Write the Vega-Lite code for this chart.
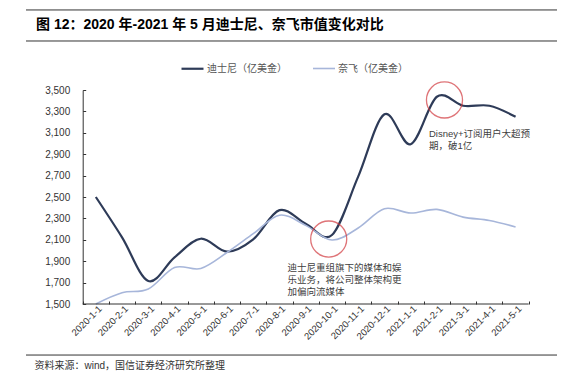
{
  "$schema": "https://vega.github.io/schema/vega-lite/v6.json",
  "width": 531,
  "height": 214,
  "autosize": "none",
  "padding": {"left": 26, "top": 90, "right": 16, "bottom": 72},
  "background": "white",
  "config": {"view": {"stroke": null}, "font": "Liberation Sans, Noto Sans CJK SC"},
  "title": {
    "text": "图 12：2020 年-2021 年 5 月迪士尼、奈飞市值变化对比",
    "anchor": "start",
    "frame": "group",
    "font": "Liberation Sans, Noto Sans CJK SC",
    "fontSize": 14,
    "fontWeight": "bold",
    "color": "#000000",
    "baseline": "middle",
    "offset": 0,
    "dx": 10,
    "dy": 30
  },
  "datasets": {
    "series": [
      {"date": "2020-1-1", "name": "迪士尼（亿美金）", "value": 2500},
      {"date": "2020-2-1", "name": "迪士尼（亿美金）", "value": 2123},
      {"date": "2020-3-1", "name": "迪士尼（亿美金）", "value": 1715},
      {"date": "2020-4-1", "name": "迪士尼（亿美金）", "value": 1936},
      {"date": "2020-5-1", "name": "迪士尼（亿美金）", "value": 2110},
      {"date": "2020-6-1", "name": "迪士尼（亿美金）", "value": 1989},
      {"date": "2020-7-1", "name": "迪士尼（亿美金）", "value": 2104},
      {"date": "2020-8-1", "name": "迪士尼（亿美金）", "value": 2377},
      {"date": "2020-9-1", "name": "迪士尼（亿美金）", "value": 2250},
      {"date": "2020-10-1", "name": "迪士尼（亿美金）", "value": 2145},
      {"date": "2020-11-1", "name": "迪士尼（亿美金）", "value": 2690},
      {"date": "2020-12-1", "name": "迪士尼（亿美金）", "value": 3273},
      {"date": "2021-1-1", "name": "迪士尼（亿美金）", "value": 2993},
      {"date": "2021-2-1", "name": "迪士尼（亿美金）", "value": 3437},
      {"date": "2021-3-1", "name": "迪士尼（亿美金）", "value": 3353},
      {"date": "2021-4-1", "name": "迪士尼（亿美金）", "value": 3353},
      {"date": "2021-5-1", "name": "迪士尼（亿美金）", "value": 3250},
      {"date": "2020-1-1", "name": "奈飞（亿美金）", "value": 1500},
      {"date": "2020-2-1", "name": "奈飞（亿美金）", "value": 1605},
      {"date": "2020-3-1", "name": "奈飞（亿美金）", "value": 1640},
      {"date": "2020-4-1", "name": "奈飞（亿美金）", "value": 1841},
      {"date": "2020-5-1", "name": "奈飞（亿美金）", "value": 1832},
      {"date": "2020-6-1", "name": "奈飞（亿美金）", "value": 1981},
      {"date": "2020-7-1", "name": "奈飞（亿美金）", "value": 2157},
      {"date": "2020-8-1", "name": "奈飞（亿美金）", "value": 2330},
      {"date": "2020-9-1", "name": "奈飞（亿美金）", "value": 2235},
      {"date": "2020-10-1", "name": "奈飞（亿美金）", "value": 2098},
      {"date": "2020-11-1", "name": "奈飞（亿美金）", "value": 2210},
      {"date": "2020-12-1", "name": "奈飞（亿美金）", "value": 2390},
      {"date": "2021-1-1", "name": "奈飞（亿美金）", "value": 2350},
      {"date": "2021-2-1", "name": "奈飞（亿美金）", "value": 2384},
      {"date": "2021-3-1", "name": "奈飞（亿美金）", "value": 2312},
      {"date": "2021-4-1", "name": "奈飞（亿美金）", "value": 2281},
      {"date": "2021-5-1", "name": "奈飞（亿美金）", "value": 2220}
    ],
    "circle1": [{"date": "2020-10-1", "value": 2107}],
    "circle2": [{"date": "2021-2-1", "value": 3407}],
    "note1": [
      {"date": "2020-9-1", "value": 1832, "text": "迪士尼重组旗下的媒体和娱"},
      {"date": "2020-9-1", "value": 1724, "text": "乐业务，将公司整体架构更"},
      {"date": "2020-9-1", "value": 1616, "text": "加偏向流媒体"}
    ],
    "note2": [
      {"date": "2021-2-1", "value": 3088, "text": "Disney+订阅用户大超预"},
      {"date": "2021-2-1", "value": 2980, "text": "期，破1亿"}
    ],
    "base": [{"start": "2020-1-1", "end": "2021-5-1", "value": 1500}],
    "frame": [{"value": 4248}, {"value": 3958}, {"value": 1023}]
  },
  "resolve": {"axis": {"x": "independent", "y": "independent"}},
  "layer": [
    {
      "data": {"name": "series"},
      "mark": {"type": "line", "interpolate": "cardinal"},
      "encoding": {
        "x": {
          "field": "date", "type": "ordinal", "bandPosition": 0.5,
          "scale": {"type": "band", "domain": ["2020-1-1","2020-2-1","2020-3-1","2020-4-1","2020-5-1","2020-6-1","2020-7-1","2020-8-1","2020-9-1","2020-10-1","2020-11-1","2020-12-1","2021-1-1","2021-2-1","2021-3-1","2021-4-1","2021-5-1"], "paddingInner": 0, "paddingOuter": 0, "range": [56.7, 502.7]},
          "axis": {"orient": "bottom", "domain": false, "grid": false, "tickBand": "extent", "tickSize": -3, "tickColor": "#333333", "labelAngle": -45, "labelAlign": "right", "labelBaseline": "middle", "labelPadding": 6, "labelOffset": 4, "labelFontSize": 9.5, "labelColor": "#333333", "labelFont": "Liberation Sans", "title": "资料来源：wind，国信证券经济研究所整理", "titleAnchor": "start", "titleAlign": "left", "titleBaseline": "middle", "titleX": 8, "titleY": 61, "titleFont": "Liberation Sans, Noto Sans CJK SC", "titleFontSize": 10, "titleFontWeight": "normal", "titleColor": "#333333"}
        },
        "y": {
          "field": "value", "type": "quantitative",
          "scale": {"domain": [1500, 3500], "nice": false, "zero": false},
          "axis": {"orient": "left", "offset": -56.7, "values": [1500,1700,1900,2100,2300,2500,2700,2900,3100,3300,3500], "format": ",.0f", "grid": false, "tickSize": -3, "labelPadding": 16, "domainColor": "#333333", "tickColor": "#333333", "labelFontSize": 10, "labelColor": "#333333", "labelFont": "Liberation Sans", "title": null}
        },
        "color": {
          "field": "name", "type": "nominal",
          "scale": {"domain": ["迪士尼（亿美金）", "奈飞（亿美金）"], "range": ["#2e3b58", "#a7b6da"]},
          "legend": {"orient": "none", "legendX": 154, "legendY": -34, "direction": "horizontal", "title": null, "symbolType": "stroke", "symbolSize": 484, "symbolStrokeWidth": 2.2, "labelFont": "Noto Sans CJK SC", "labelFontSize": 10, "labelColor": "#555555", "labelOffset": 2, "columnPadding": 22}
        },
        "strokeWidth": {
          "field": "name", "type": "nominal",
          "scale": {"domain": ["迪士尼（亿美金）", "奈飞（亿美金）"], "range": [2.2, 1.6]},
          "legend": null
        }
      }
    },
    {
      "data": {"name": "frame"},
      "mark": {"type": "rule", "color": "#333333", "strokeWidth": 1},
      "encoding": {
        "y": {"field": "value", "type": "quantitative", "scale": {"domain": [1500, 3500], "nice": false, "zero": false}, "axis": null}
      }
    },
    {
      "data": {"name": "circle1"},
      "mark": {"type": "point", "shape": "circle", "size": 1300, "filled": false, "stroke": "#d23a3f", "strokeWidth": 1.3},
      "encoding": {
        "x": {
          "field": "date", "type": "ordinal", "bandPosition": 0.377,
          "scale": {"type": "band", "domain": ["2020-1-1","2020-2-1","2020-3-1","2020-4-1","2020-5-1","2020-6-1","2020-7-1","2020-8-1","2020-9-1","2020-10-1","2020-11-1","2020-12-1","2021-1-1","2021-2-1","2021-3-1","2021-4-1","2021-5-1"], "paddingInner": 0, "paddingOuter": 0, "range": [56.7, 502.7]},
          "axis": null
        },
        "y": {"field": "value", "type": "quantitative", "scale": {"domain": [1500, 3500], "nice": false, "zero": false}, "axis": null}
      }
    },
    {
      "data": {"name": "circle2"},
      "mark": {"type": "point", "shape": "circle", "size": 1300, "filled": false, "stroke": "#d23a3f", "strokeWidth": 1.3},
      "encoding": {
        "x": {
          "field": "date", "type": "ordinal", "bandPosition": 0.79,
          "scale": {"type": "band", "domain": ["2020-1-1","2020-2-1","2020-3-1","2020-4-1","2020-5-1","2020-6-1","2020-7-1","2020-8-1","2020-9-1","2020-10-1","2020-11-1","2020-12-1","2021-1-1","2021-2-1","2021-3-1","2021-4-1","2021-5-1"], "paddingInner": 0, "paddingOuter": 0, "range": [56.7, 502.7]},
          "axis": null
        },
        "y": {"field": "value", "type": "quantitative", "scale": {"domain": [1500, 3500], "nice": false, "zero": false}, "axis": null}
      }
    },
    {
      "data": {"name": "note1"},
      "mark": {"type": "text", "align": "left", "baseline": "middle", "dx": -5, "font": "Liberation Sans, Noto Sans CJK SC", "fontSize": 9.5, "color": "#404040"},
      "encoding": {
        "x": {
          "field": "date", "type": "ordinal", "bandPosition": 0,
          "scale": {"type": "band", "domain": ["2020-1-1","2020-2-1","2020-3-1","2020-4-1","2020-5-1","2020-6-1","2020-7-1","2020-8-1","2020-9-1","2020-10-1","2020-11-1","2020-12-1","2021-1-1","2021-2-1","2021-3-1","2021-4-1","2021-5-1"], "paddingInner": 0, "paddingOuter": 0, "range": [56.7, 502.7]},
          "axis": null
        },
        "y": {"field": "value", "type": "quantitative", "scale": {"domain": [1500, 3500], "nice": false, "zero": false}, "axis": null},
        "text": {"field": "text", "type": "nominal"}
      }
    },
    {
      "data": {"name": "note2"},
      "mark": {"type": "text", "align": "left", "baseline": "middle", "font": "Liberation Sans, Noto Sans CJK SC", "fontSize": 9.5, "color": "#404040"},
      "encoding": {
        "x": {
          "field": "date", "type": "ordinal", "bandPosition": 0.2,
          "scale": {"type": "band", "domain": ["2020-1-1","2020-2-1","2020-3-1","2020-4-1","2020-5-1","2020-6-1","2020-7-1","2020-8-1","2020-9-1","2020-10-1","2020-11-1","2020-12-1","2021-1-1","2021-2-1","2021-3-1","2021-4-1","2021-5-1"], "paddingInner": 0, "paddingOuter": 0, "range": [56.7, 502.7]},
          "axis": null
        },
        "y": {"field": "value", "type": "quantitative", "scale": {"domain": [1500, 3500], "nice": false, "zero": false}, "axis": null},
        "text": {"field": "text", "type": "nominal"}
      }
    },
    {
      "data": {"name": "base"},
      "mark": {"type": "rule", "color": "#333333", "strokeWidth": 1},
      "encoding": {
        "x": {
          "field": "start", "type": "ordinal", "bandPosition": 0,
          "scale": {"type": "band", "domain": ["2020-1-1","2020-2-1","2020-3-1","2020-4-1","2020-5-1","2020-6-1","2020-7-1","2020-8-1","2020-9-1","2020-10-1","2020-11-1","2020-12-1","2021-1-1","2021-2-1","2021-3-1","2021-4-1","2021-5-1"], "paddingInner": 0, "paddingOuter": 0, "range": [56.7, 502.7]},
          "axis": null
        },
        "x2": {"field": "end", "bandPosition": 1},
        "y": {"field": "value", "type": "quantitative", "scale": {"domain": [1500, 3500], "nice": false, "zero": false}, "axis": null}
      }
    }
  ]
}
